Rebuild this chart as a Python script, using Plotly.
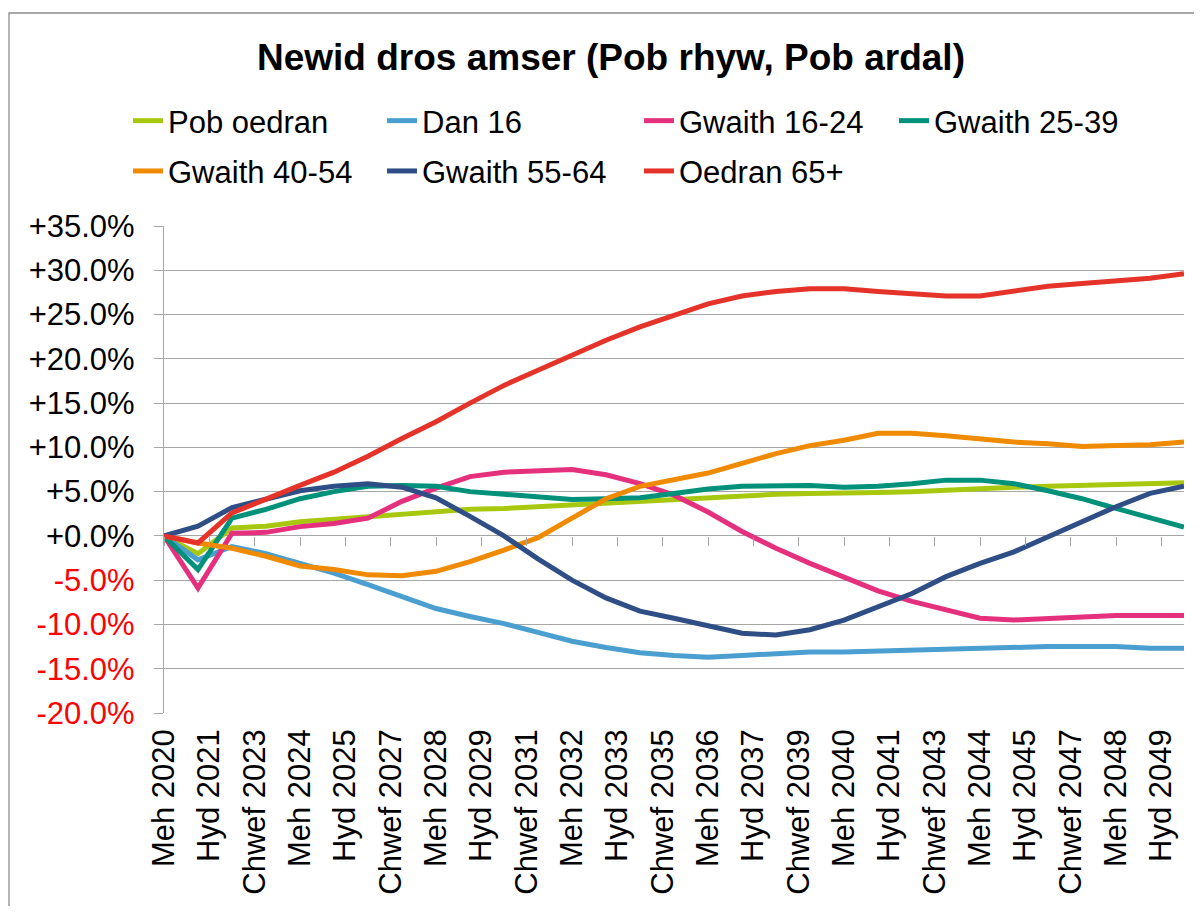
import plotly.graph_objects as go

# ---------------- data ----------------
years = list(range(2020, 2051))
dates = [f"{y}-06-01" for y in years]

series_names = ["Pob oedran", "Dan 16", "Gwaith 16-24", "Gwaith 25-39",
                "Gwaith 40-54", "Gwaith 55-64", "Oedran 65+"]

pob_oedran = [0.0, -2.0, 0.9, 1.1, 1.6, 1.9, 2.2, 2.5, 2.75, 3.0, 3.1,
              3.3, 3.5, 3.8, 3.9, 4.1, 4.4, 4.5, 4.7, 4.8, 4.8,
              4.9, 5.0, 5.2, 5.4, 5.5, 5.6, 5.7, 5.8, 5.8, 6.0]
dan_16 = [0.0, -2.7, -1.2, -2.0, -3.1, -4.2, -5.5, -6.8, -8.2, -9.1, -9.9,
          -10.9, -11.9, -12.6, -13.2, -13.5, -13.7, -13.5, -13.3, -13.1, -13.1,
          -13.0, -12.8, -12.8, -12.6, -12.5, -12.5, -12.5, -12.5, -12.7, -12.7]
gwaith_16_24 = [0.0, -5.9, 0.3, 0.4, 1.05, 1.4, 2.0, 3.9, 5.4, 6.7, 7.2,
                7.4, 7.5, 6.9, 5.9, 4.6, 2.7, 0.5, -1.4, -3.1, -4.7,
                -6.2, -7.4, -8.4, -9.3, -9.5, -9.3, -9.1, -9.0, -9.0, -9.0]
gwaith_25_39 = [0.0, -3.8, 2.0, 3.0, 4.2, 5.0, 5.6, 5.7, 5.6, 5.0, 4.7,
                4.4, 4.1, 4.2, 4.3, 4.8, 5.3, 5.6, 5.7, 5.7, 5.5,
                5.6, 5.9, 6.3, 6.3, 5.9, 5.1, 4.2, 3.1, 2.0, 1.0]
gwaith_40_54 = [0.0, -0.8, -1.4, -2.3, -3.4, -3.8, -4.4, -4.5, -4.0, -2.9, -1.6,
                -0.2, 2.0, 4.2, 5.6, 6.3, 7.1, 8.2, 9.3, 10.2, 10.8,
                11.6, 11.6, 11.3, 10.9, 10.6, 10.4, 10.1, 10.2, 10.3, 10.6]
gwaith_55_64 = [0.0, 1.1, 3.2, 4.2, 5.1, 5.6, 5.9, 5.5, 4.3, 2.2, 0.0,
                -2.6, -5.0, -7.0, -8.5, -9.3, -10.2, -11.0, -11.2, -10.6, -9.5,
                -8.0, -6.5, -4.6, -3.1, -1.8, -0.1, 1.6, 3.3, 4.8, 5.6]
oedran_65 = [0.0, -0.8, 2.6, 4.2, 5.7, 7.2, 9.0, 11.0, 12.9, 15.0, 17.0,
             18.7, 20.4, 22.1, 23.6, 24.9, 26.2, 27.1, 27.6, 27.9, 27.9,
             27.6, 27.4, 27.1, 27.1, 27.6, 28.2, 28.5, 28.8, 29.1, 29.6]

series_values = [pob_oedran, dan_16, gwaith_16_24, gwaith_25_39,
                 gwaith_40_54, gwaith_55_64, oedran_65]

tick_dates = ["2020-06-01", "2021-10-01", "2023-02-01", "2024-06-01", "2025-10-01",
              "2027-02-01", "2028-06-01", "2029-10-01", "2031-02-01", "2032-06-01",
              "2033-10-01", "2035-02-01", "2036-06-01", "2037-10-01", "2039-02-01",
              "2040-06-01", "2041-10-01", "2043-02-01", "2044-06-01", "2045-10-01",
              "2047-02-01", "2048-06-01", "2049-10-01"]
tick_labels = ["Meh 2020", "Hyd 2021", "Chwef 2023", "Meh 2024", "Hyd 2025",
               "Chwef 2027", "Meh 2028", "Hyd 2029", "Chwef 2031", "Meh 2032",
               "Hyd 2033", "Chwef 2035", "Meh 2036", "Hyd 2037", "Chwef 2039",
               "Meh 2040", "Hyd 2041", "Chwef 2043", "Meh 2044", "Hyd 2045",
               "Chwef 2047", "Meh 2048", "Hyd 2049"]

y_ticks = [35, 30, 25, 20, 15, 10, 5, 0, -5, -10, -15, -20]
y_labels = ["+35.0%", "+30.0%", "+25.0%", "+20.0%", "+15.0%", "+10.0%", "+5.0%",
            "+0.0%", "-5.0%", "-10.0%", "-15.0%", "-20.0%"]

title_text = "Newid dros amser (Pob rhyw, Pob ardal)"

# ---------------- styles ----------------
colors = ["#A8C80F", "#4A9FD0", "#E5307E", "#00917A", "#F08A00", "#2F4E86", "#E5332A"]
legend_of = ["legend", "legend2", "legend3", "legend4", "legend", "legend2", "legend3"]
FONT = "Liberation Sans, Arial, sans-serif"
GRID = "#A6A6A6"

# page-pixel layout helpers (body has an 8px margin)
OFF = 8
FIG_W, FIG_H = 1186, 898
PL, PR, PT, PB = 164, 1184, 226, 713          # plot area in page pixels
L = PL - OFF
T = PT - OFF
R = FIG_W - (PR - OFF)
B = FIG_H - (PB - OFF)
PW = PR - PL
PH = PB - PT


def pxx(px):
    return (px - PL) / PW


def pxy(py):
    return (PB - py) / PH


fig = go.Figure()
for name, vals, col, lg in zip(series_names, series_values, colors, legend_of):
    fig.add_trace(go.Scatter(
        x=dates, y=vals, mode="lines", name=name,
        line=dict(color=col, width=5),
        legend=lg, legendgroup=name,
        hovertemplate="%{x|%b %Y}: %{y:+.1f}%<extra>" + name + "</extra>",
    ))

# helper trace so the zero-line tick axis is drawn
fig.add_trace(go.Scatter(x=dates, y=[None] * len(dates), xaxis="x2",
                         showlegend=False, hoverinfo="skip"))

ytext = [lab if v >= 0 else f'<span style="color:#FF0000">{lab}</span>'
         for v, lab in zip(y_ticks, y_labels)]

leg_common = dict(xanchor="left", yanchor="top", orientation="v",
                  font=dict(size=31, color="black", family=FONT),
                  bgcolor="rgba(0,0,0,0)", borderwidth=0,
                  traceorder="grouped", tracegroupgap=7)
leg_y = pxy(94)

fig.update_layout(
    width=FIG_W, height=FIG_H,
    margin=dict(l=L, r=R, t=T, b=B, autoexpand=False),
    paper_bgcolor="white", plot_bgcolor="white",
    font=dict(family=FONT, color="black"),
    title=dict(text=title_text, x=(611 - OFF) / FIG_W, y=1 - (57 - OFF) / FIG_H,
               xanchor="center", yanchor="middle", xref="container", yref="container",
               font=dict(size=37, color="black", family=FONT, weight="bold")),
    xaxis=dict(type="date", range=[dates[0], dates[-1]],
               tickmode="array", tickvals=tick_dates, ticktext=tick_labels,
               tickangle=-90, tickfont=dict(size=31, color="black"),
               ticks="", showgrid=False, zeroline=False, showline=False,
               ticklabelstandoff=9),
    xaxis2=dict(type="date", overlaying="x", matches="x", anchor="free",
                position=20 / 55,
                tickmode="array", tickvals=tick_dates,
                showticklabels=False, ticks="outside", ticklen=9,
                tickcolor=GRID, tickwidth=1.3,
                showgrid=False, zeroline=False, showline=False),
    yaxis=dict(range=[-20, 35], tickmode="array", tickvals=y_ticks, ticktext=ytext,
               tickfont=dict(size=31, color="black"),
               showgrid=True, gridcolor=GRID, gridwidth=1.3,
               zeroline=True, zerolinecolor=GRID, zerolinewidth=1.3,
               showline=True, linecolor=GRID, linewidth=1.3,
               ticks="outside", ticklen=9, tickcolor=GRID, tickwidth=1.3,
               ticklabelstandoff=13),
    legend=dict(x=pxx(128), y=leg_y, **leg_common),
    legend2=dict(x=pxx(382), y=leg_y, **leg_common),
    legend3=dict(x=pxx(639), y=leg_y, **leg_common),
    legend4=dict(x=pxx(894), y=leg_y, **leg_common),
    shapes=[dict(type="rect", xref="paper", yref="paper",
                 x0=pxx(9), x1=pxx(1215), y0=pxy(930), y1=pxy(13),
                 line=dict(color="#8C8C8C", width=1.3), layer="below")],
    showlegend=True,
)

fig.write_html("out.html")
